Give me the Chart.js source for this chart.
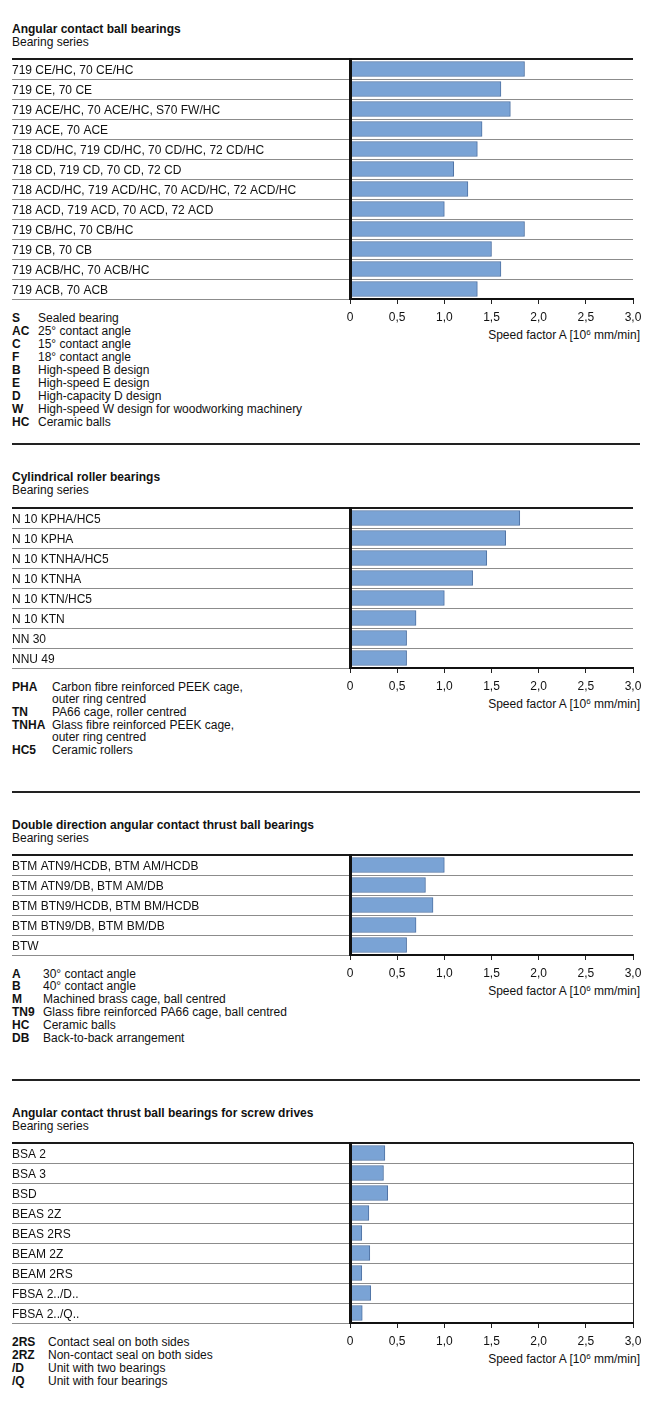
<!DOCTYPE html>
<html><head><meta charset="utf-8">
<script src="https://cdn.jsdelivr.net/npm/chart.js@4.4.1/dist/chart.umd.min.js"></script>
<style>
html,body{margin:0;padding:0;background:#fff;}
body{width:653px;height:1410px;position:relative;overflow:hidden;font-family:'Liberation Sans',Arial,Helvetica,sans-serif;font-size:12px;color:#111;}
.t{position:absolute;white-space:nowrap;line-height:13px;}
.b{font-weight:bold;}
.sep{position:absolute;left:12px;width:628px;height:2px;background:#222;}
canvas{position:absolute;left:0;}
sup{font-size:8px;line-height:0;vertical-align:4px;}
</style></head><body>
<script>
// ---------- data ----------
const xTickLabels = ['0', '0,5', '1,0', '1,5', '2,0', '2,5', '3,0'];
const axisTitle = 'Speed factor A [10<sup>6</sup> mm/min]';
const subTitle = 'Bearing series';

const p1Title = 'Angular contact ball bearings';
const p1Categories = ['719 CE/HC, 70 CE/HC', '719 CE, 70 CE', '719 ACE/HC, 70 ACE/HC, S70 FW/HC', '719 ACE, 70 ACE',
  '718 CD/HC, 719 CD/HC, 70 CD/HC, 72 CD/HC', '718 CD, 719 CD, 70 CD, 72 CD',
  '718 ACD/HC, 719 ACD/HC, 70 ACD/HC, 72 ACD/HC', '718 ACD, 719 ACD, 70 ACD, 72 ACD',
  '719 CB/HC, 70 CB/HC', '719 CB, 70 CB', '719 ACB/HC, 70 ACB/HC', '719 ACB, 70 ACB'];
const p1Values = [1.85, 1.6, 1.7, 1.4, 1.35, 1.1, 1.25, 1.0, 1.85, 1.5, 1.6, 1.35];
const p1Notes = [['S', 'Sealed bearing'], ['AC', '25° contact angle'], ['C', '15° contact angle'], ['F', '18° contact angle'],
  ['B', 'High-speed B design'], ['E', 'High-speed E design'], ['D', 'High-capacity D design'],
  ['W', 'High-speed W design for woodworking machinery'], ['HC', 'Ceramic balls']];

const p2Title = 'Cylindrical roller bearings';
const p2Categories = ['N 10 KPHA/HC5', 'N 10 KPHA', 'N 10 KTNHA/HC5', 'N 10 KTNHA', 'N 10 KTN/HC5', 'N 10 KTN', 'NN 30', 'NNU 49'];
const p2Values = [1.8, 1.65, 1.45, 1.3, 1.0, 0.7, 0.6, 0.6];
const p2Notes = [['PHA', 'Carbon fibre reinforced PEEK cage,'], ['', 'outer ring centred'], ['TN', 'PA66 cage, roller centred'],
  ['TNHA', 'Glass fibre reinforced PEEK cage,'], ['', 'outer ring centred'], ['HC5', 'Ceramic rollers']];

const p3Title = 'Double direction angular contact thrust ball bearings';
const p3Categories = ['BTM ATN9/HCDB, BTM AM/HCDB', 'BTM ATN9/DB, BTM AM/DB', 'BTM BTN9/HCDB, BTM BM/HCDB', 'BTM BTN9/DB, BTM BM/DB', 'BTW'];
const p3Values = [1.0, 0.8, 0.88, 0.7, 0.6];
const p3Notes = [['A', '30° contact angle'], ['B', '40° contact angle'], ['M', 'Machined brass cage, ball centred'],
  ['TN9', 'Glass fibre reinforced PA66 cage, ball centred'], ['HC', 'Ceramic balls'], ['DB', 'Back-to-back arrangement']];

const p4Title = 'Angular contact thrust ball bearings for screw drives';
const p4Categories = ['BSA 2', 'BSA 3', 'BSD', 'BEAS 2Z', 'BEAS 2RS', 'BEAM 2Z', 'BEAM 2RS', 'FBSA 2../D..', 'FBSA 2../Q..'];
const p4Values = [0.37, 0.355, 0.4, 0.2, 0.125, 0.21, 0.125, 0.22, 0.13];
const p4Notes = [['2RS', 'Contact seal on both sides'], ['2RZ', 'Non-contact seal on both sides'],
  ['/D', 'Unit with two bearings'], ['/Q', 'Unit with four bearings']];

// ---------- layout ----------
const ROW = 20;
const panels = [
  {title: p1Title, cats: p1Categories, vals: p1Values, notes: p1Notes, top: 59, titleTop: 23, descX: 38, noteLH: 13, box: false},
  {title: p2Title, cats: p2Categories, vals: p2Values, notes: p2Notes, top: 508, titleTop: 471, descX: 52, noteLH: 12.7, box: false},
  {title: p3Title, cats: p3Categories, vals: p3Values, notes: p3Notes, top: 855, titleTop: 819, descX: 43, noteLH: 12.8, box: false},
  {title: p4Title, cats: p4Categories, vals: p4Values, notes: p4Notes, top: 1143, titleTop: 1107, descX: 48, noteLH: 13, box: true}
];
const separators = [443, 791, 1079];

Chart.defaults.font.family = "'Liberation Sans', Arial, Helvetica, sans-serif";
Chart.defaults.font.size = 12;
Chart.defaults.color = '#111';

function addText(html, style, cls) {
  const d = document.createElement('div');
  d.className = 't' + (cls ? ' ' + cls : '');
  d.innerHTML = html;
  Object.assign(d.style, style);
  document.body.appendChild(d);
  return d;
}

separators.forEach(y => {
  const s = document.createElement('div');
  s.className = 'sep';
  s.style.top = y + 'px';
  document.body.appendChild(s);
});

panels.forEach(p => {
  const bottom = p.top + p.cats.length * ROW;
  addText(p.title, {left: '12px', top: p.titleTop + 'px'}, 'b');
  addText(subTitle, {left: '12px', top: (p.titleTop + 13) + 'px'});
  p.notes.forEach((n, i) => {
    const y = bottom + 12.5 + i * p.noteLH;
    if (n[0]) addText(n[0], {left: '12px', top: y + 'px'}, 'b');
    addText(n[1], {left: p.descX + 'px', top: y + 'px'});
  });
  addText(axisTitle, {right: '13px', top: (bottom + 29.6) + 'px'});

  const padTop = 12, axisH = 30;
  const cv = document.createElement('canvas');
  cv.width = 653;
  cv.height = padTop + p.cats.length * ROW + axisH;
  cv.style.top = (p.top - padTop) + 'px';
  document.body.appendChild(cv);

  new Chart(cv, {
    type: 'bar',
    data: {
      labels: p.cats,
      datasets: [{
        data: p.vals,
        backgroundColor: '#7aa3d5',
        borderColor: '#4f72a3',
        borderWidth: 1,
        borderSkipped: 'start',
        barThickness: 15
      }]
    },
    options: {
      indexAxis: 'y',
      responsive: false,
      animation: false,
      layout: {padding: {top: padTop, left: 12, right: 20, bottom: 0}},
      plugins: {legend: {display: false}, tooltip: {enabled: false}},
      scales: {
        x: {
          type: 'linear', min: 0, max: 3, position: 'bottom',
          afterFit: s => { s.height = axisH; },
          ticks: {stepSize: 0.5, autoSkip: false, maxRotation: 0, padding: 6, color: '#111',
            callback: (v, i) => xTickLabels[i]},
          grid: {
            drawOnChartArea: p.box, drawTicks: true, tickLength: 5, lineWidth: 1,
            color: ctx => (p.box && ctx.index === xTickLabels.length - 1) ? '#222' : 'rgba(0,0,0,0)',
            tickColor: '#222'
          },
          border: {display: true, color: '#111', width: 2, z: 1}
        },
        y: {
          type: 'category', position: 'left',
          afterFit: s => { s.width = 338; },
          ticks: {crossAlign: 'far', padding: 0, autoSkip: false, color: '#111', labelOffset: 1.5},
          grid: {
            offset: true, drawOnChartArea: true, drawTicks: true, tickLength: 338,
            color: ctx => ctx.index === 0 ? '#1a1a1a' : '#8c8c8c',
            lineWidth: ctx => ctx.index === 0 ? 2 : 1
          },
          border: {display: true, color: '#111', width: 3, z: 1}
        }
      }
    }
  });
});
</script>
</body></html>
